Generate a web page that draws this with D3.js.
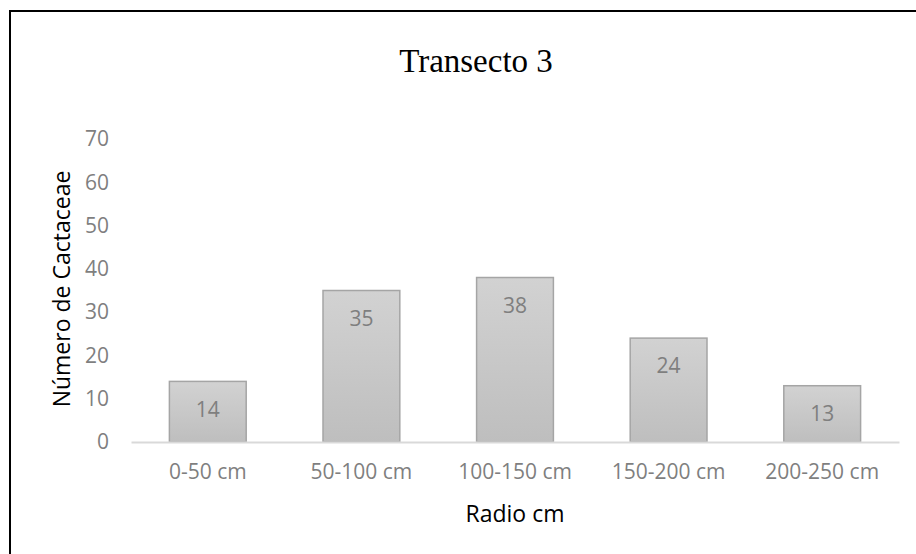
<!DOCTYPE html>
<html>
<head>
<meta charset="utf-8">
<script src="https://cdn.jsdelivr.net/npm/d3@7"></script>
<style>
  body { margin: 0; background: #fff; }
  svg { display: block; }
</style>
</head>
<body>
<svg id="chart" width="916" height="554"></svg>
<script>
// bar chart: cactaceae per radius class
const categories = ["0-50 cm", "50-100 cm", "100-150 cm", "150-200 cm", "200-250 cm"];
const counts = [14, 35, 38, 24, 13];
const yTicks = [0, 10, 20, 30, 40, 50, 60, 70];

const chartTitle = "Transecto 3";
const xTitle = "Radio cm";
const yTitle = "Número de Cactaceae";

const svg = d3.select("#chart");
const margin = {left: 131, right: 17, top: 139, bottom: 112};
const width = 916 - margin.left - margin.right;
const height = 554 - margin.top - margin.bottom;

// outer frame, runs past the right and bottom edges
svg.append("rect")
    .attr("x", 10).attr("y", 11)
    .attr("width", 940).attr("height", 600)
    .attr("fill", "none")
    .attr("stroke", "#000")
    .attr("stroke-width", 2);

const defs = svg.append("defs");
const grad = defs.append("linearGradient")
    .attr("id", "barGrad")
    .attr("x1", 0).attr("y1", 0).attr("x2", 0).attr("y2", 1);
grad.append("stop").attr("offset", "0%").attr("stop-color", "#d2d2d2");
grad.append("stop").attr("offset", "100%").attr("stop-color", "#bebebe");

const g = svg.append("g")
    .attr("transform", `translate(${margin.left},${margin.top})`);

const x = d3.scaleBand()
    .domain(categories)
    .range([0, width])
    .paddingInner(0.5)
    .paddingOuter(0.25);

const y = d3.scaleLinear()
    .domain([0, 70])
    .range([height, 0]);

// y axis labels (no line, no ticks)
const yAxis = g.append("g")
    .call(d3.axisLeft(y).tickValues(yTicks).tickSize(0).tickPadding(22));
yAxis.select(".domain").remove();
yAxis.selectAll("text")
    .attr("fill", "#7f7f7f")
    .style("font-family", "'Open Sans', sans-serif")
    .style("font-size", "21px");

// bars
g.selectAll(".bar")
    .data(counts)
    .enter()
    .append("rect")
    .attr("class", "bar")
    .attr("x", (d, i) => x(categories[i]))
    .attr("y", d => y(d))
    .attr("width", x.bandwidth())
    .attr("height", d => height - y(d))
    .attr("fill", "url(#barGrad)")
    .attr("stroke", "#a5a5a5")
    .attr("stroke-width", 1.5);

// x axis baseline + labels
const xAxis = g.append("g")
    .attr("transform", `translate(0,${height})`)
    .call(d3.axisBottom(x).tickSize(0).tickPadding(22));
xAxis.select(".domain")
    .attr("stroke", "#d9d9d9")
    .attr("stroke-width", 2);
xAxis.selectAll("text")
    .attr("fill", "#7f7f7f")
    .style("font-family", "'Open Sans', sans-serif")
    .style("font-size", "21px");

// data labels inside bars
g.selectAll(".label")
    .data(counts)
    .enter()
    .append("text")
    .attr("class", "label")
    .attr("x", (d, i) => x(categories[i]) + x.bandwidth() / 2)
    .attr("y", d => y(d) + 28)
    .attr("dy", "0.35em")
    .attr("text-anchor", "middle")
    .attr("fill", "#7f7f7f")
    .style("font-family", "'Open Sans', sans-serif")
    .style("font-size", "21px")
    .text(d => d);

// titles
svg.append("text")
    .attr("x", 476)
    .attr("y", 72)
    .attr("text-anchor", "middle")
    .style("font-family", "'Liberation Serif', 'Times New Roman', serif")
    .style("font-size", "33px")
    .attr("fill", "#000")
    .text(chartTitle);

svg.append("text")
    .attr("x", margin.left + width / 2)
    .attr("y", 514)
    .attr("dy", "0.35em")
    .attr("text-anchor", "middle")
    .style("font-family", "'Open Sans', sans-serif")
    .style("font-size", "23px")
    .attr("fill", "#000")
    .text(xTitle);

svg.append("text")
    .attr("transform", `translate(62,289) rotate(-90)`)
    .attr("dy", "0.35em")
    .attr("text-anchor", "middle")
    .style("font-family", "'Open Sans', sans-serif")
    .style("font-size", "23px")
    .attr("fill", "#000")
    .text(yTitle);
</script>
</body>
</html>
